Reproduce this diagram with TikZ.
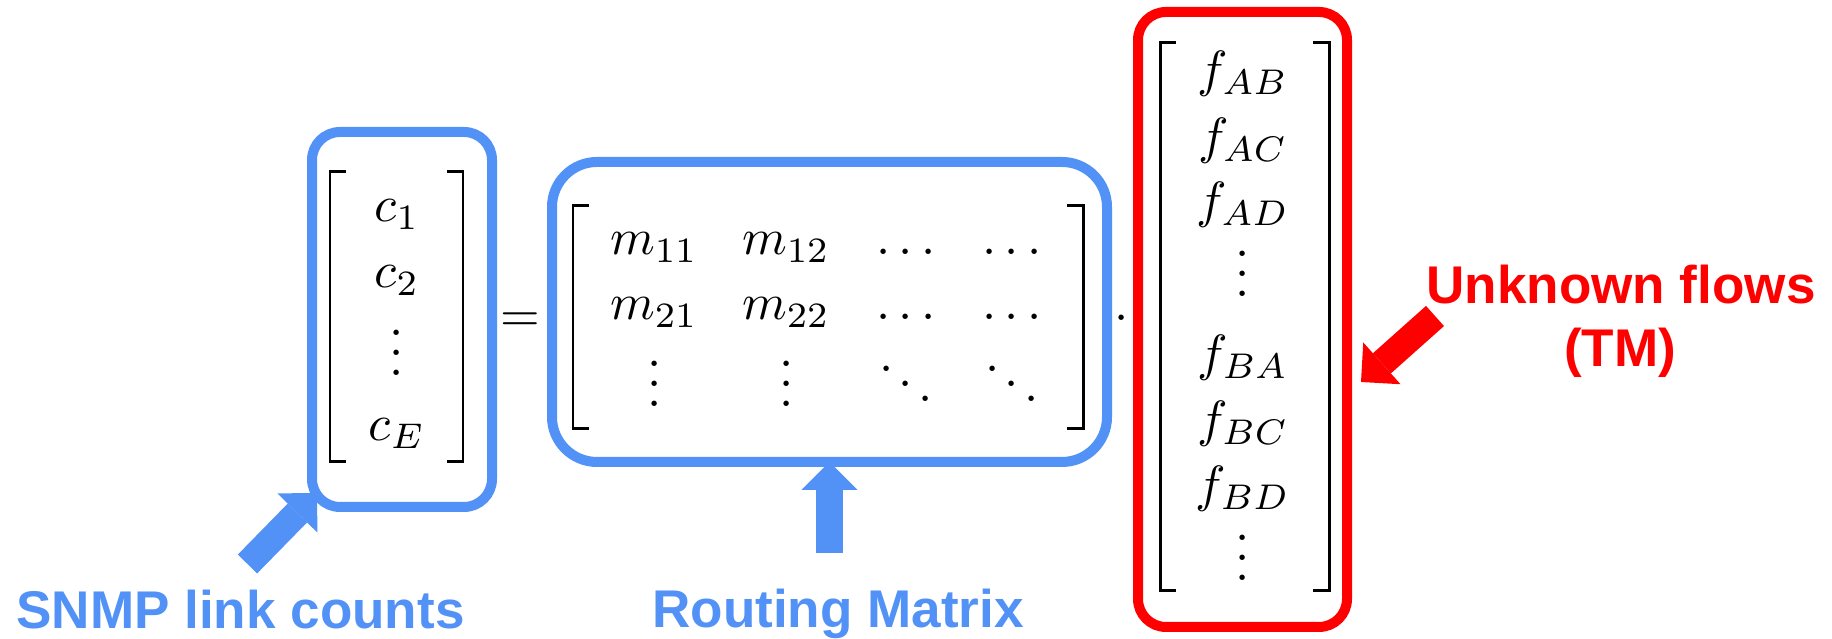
\documentclass[tikz,border=0pt]{standalone}
\usepackage{fontspec}
\setsansfont{Liberation Sans}
\usetikzlibrary{arrows.meta}

\definecolor{snmpblue}{RGB}{82,145,245}
\definecolor{flowred}{RGB}{255,0,0}

% dots without the empty space on top
\newcommand\tightvdots{\vbox{\baselineskip4pt\lineskiplimit0pt\hbox{.}\hbox{.}\hbox{.}}}
\newcommand\tightddots{\mathinner{\mkern1mu\raise7pt\hbox{.}\mkern2mu\raise4pt\hbox{.}\mkern2mu\raise1pt\hbox{.}\mkern1mu}}

\begin{document}
\begin{tikzpicture}[
  bluebox/.style={draw=snmpblue, line width=1mm, rounded corners=2.8mm, inner sep=0pt, outer sep=0pt},
  redbox/.style={draw=flowred, line width=1mm, rounded corners=2.8mm, inner sep=0pt, outer sep=0pt},
  entry/.style={anchor=base, inner sep=0pt, scale=1.45, transform shape},
  brk/.style={line width=0.85pt, line join=miter},
  bigarrow/.style={line width=2.7mm, -{Triangle[width=5.6mm, length=2.8mm, line width=0pt]}},
  tag/.style={anchor=base, inner sep=0pt, font=\sffamily\bfseries\fontsize{15.1}{18}\selectfont}
]

\useasboundingbox (0,0) rectangle (18.32,6.39);

% the three boxes
\node[bluebox, minimum width=1.80cm, minimum height=3.75cm] (cbox) at (4.02,3.195) {};
\node[bluebox, rounded corners=4.5mm, minimum width=5.55cm, minimum height=3.00cm] (mbox) at (8.295,3.27) {};
\node[redbox, minimum width=2.09cm, minimum height=6.15cm] (fbox) at (12.425,3.195) {};

% brackets
\foreach \l/\r/\t/\b in {3.30/4.63/4.67/1.77, 5.73/10.83/4.33/2.10, 11.60/13.29/5.96/0.48} {
  \draw[brk] ({\l+0.16},\t) -- (\l,\t) -- (\l,\b) -- ({\l+0.16},\b);
  \draw[brk] ({\r-0.16},\t) -- (\r,\t) -- (\r,\b) -- ({\r-0.16},\b);
}

% link counts
\node[entry] (c1) at (3.97,4.17) {$c_1$};
\node[entry] (c2) at (3.97,3.51) {$c_2$};
\node[entry] (cvdots) at (3.97,2.63) {$\tightvdots$};
\node[entry] (cE) at (3.97,1.98) {$c_E$};

\node[entry] (eq) at (5.20,3.07) {$=$};

% routing matrix
\node[entry] (m11) at (6.54,3.84) {$m_{11}$};
\node[entry] (m12) at (7.86,3.84) {$m_{12}$};
\node[entry] (m13) at (9.06,3.84) {$\ldots$};
\node[entry] (m14) at (10.12,3.84) {$\ldots$};
\node[entry] (m21) at (6.54,3.19) {$m_{21}$};
\node[entry] (m22) at (7.86,3.19) {$m_{22}$};
\node[entry] (m23) at (9.06,3.19) {$\ldots$};
\node[entry] (m24) at (10.12,3.19) {$\ldots$};
\node[entry] (m31) at (6.55,2.32) {$\tightvdots$};
\node[entry] (m32) at (7.87,2.32) {$\tightvdots$};
\node[entry] (m33) at (9.06,2.32) {$\tightddots$};
\node[entry] (m34) at (10.12,2.32) {$\tightddots$};

\node[entry] (dot) at (11.22,3.08) {$\cdot$};

% flows
\foreach \sub/\y in {AB/5.52, AC/4.85, AD/4.21, BA/2.68, BC/2.02, BD/1.37}
  \node[entry] (f\sub) at (12.43,\y) {$f_{\sub}$};
\node[entry] (fvdots1) at (12.43,3.42) {$\tightvdots$};
\node[entry] (fvdots2) at (12.43,0.58) {$\tightvdots$};

% pointers
\coordinate (snmptail) at (2.475,0.75);
\coordinate (snmptip) at (3.17,1.46);
\coordinate (routetail) at (8.295,0.86);
\coordinate (flowtail) at (14.35,3.23);
\coordinate (flowtip) at (13.61,2.57);

\draw[bigarrow, snmpblue] (snmptail) -- (snmptip);
\draw[bigarrow, snmpblue] (routetail) -- (mbox.south);
\draw[bigarrow, flowred] (flowtail) -- (flowtip);

\node[tag, text=snmpblue] (snmp) at (2.405,0.10) {SNMP link counts};
\node[tag, text=snmpblue] (routing) at (8.38,0.11) {Routing Matrix};
\node[tag, text=flowred] (unknown) at (16.21,3.35) {Unknown flows};
\node[tag, text=flowred] (tm) at (16.20,2.72) {(TM)};

\end{tikzpicture}
\end{document}
